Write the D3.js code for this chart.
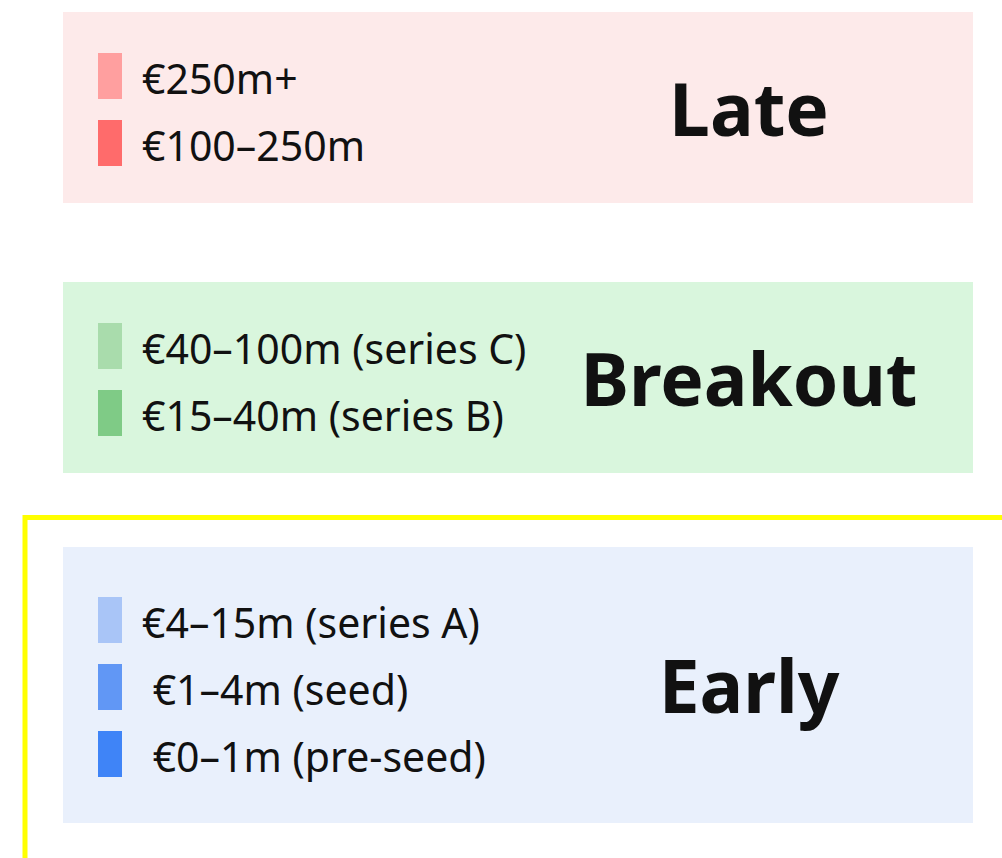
<!DOCTYPE html>
<html>
<head>
<meta charset="utf-8">
<script src="https://cdn.jsdelivr.net/npm/d3@7"></script>
<style>
  html, body { margin: 0; padding: 0; background: #fff; }
  svg { display: block; }
  text { font-family: "Noto Sans", "DejaVu Sans", sans-serif; fill: #111; white-space: pre; }
</style>
</head>
<body>
<svg width="1002" height="858"></svg>
<script>
// stages, top to bottom
const stages = ["Late", "Breakout", "Early"];
// funding bands inside each stage
const lateBands = ["€250m+", "€100–250m"];
const breakoutBands = ["€40–100m (series C)", "€15–40m (series B)"];
const earlyBands = ["€4–15m (series A)", " €1–4m (seed)", " €0–1m (pre-seed)"];
const bandsByStage = [lateBands, breakoutBands, earlyBands];

// colours
const stageFill = d3.scaleOrdinal(stages, ["#fdeaea", "#d9f6dd", "#e9f0fc"]);
const swatchFill = [
  ["#ff9f9f", "#ff6b6b"],
  ["#a9dcac", "#7fcb86"],
  ["#a9c5f7", "#6197f5", "#3f84f7"]
];

///////////// set up canvas
const svg = d3.select("svg"),
  width = +svg.attr("width"),
  height = +svg.attr("height");

// box layout (top, height) per stage
const boxTop = [12, 282, 547];
const boxHeight = [191, 191, 276];
const boxX = 63, boxW = 910;
const rowPitch = 67, swatchH = 46;

// highlight frame around the early stage
svg.append("rect")
  .attr("x", 25)
  .attr("y", 517.5)
  .attr("width", width)
  .attr("height", height)
  .attr("fill", "none")
  .attr("stroke", "#ffff00")
  .attr("stroke-width", 5);

const group = svg.selectAll("g.stage")
  .data(stages)
  .enter()
  .append("g")
  .attr("class", "stage")
  .attr("transform", (d, i) => `translate(0,${boxTop[i]})`);

group.append("rect")
  .attr("x", boxX)
  .attr("y", 0)
  .attr("width", boxW)
  .attr("height", (d, i) => boxHeight[i])
  .attr("fill", d => stageFill(d));

// big stage name
group.append("text")
  .attr("x", 749)
  .attr("y", (d, i) => boxHeight[i] / 2 + 28)
  .attr("text-anchor", "middle")
  .attr("font-size", 73)
  .attr("font-weight", 700)
  .text(d => d);

// rows of swatch + label
group.each(function (stage, si) {
  const bands = bandsByStage[si];
  const h = boxHeight[si];
  // row scale, swatch block centred in the box
  const top = h / 2 + 2 - (bands.length * rowPitch - (rowPitch - swatchH)) / 2;
  const y = d3.scaleLinear()
    .domain([0, bands.length])
    .range([top, top + bands.length * rowPitch]);

  const row = d3.select(this).selectAll("g.row")
    .data(bands)
    .enter()
    .append("g")
    .attr("class", "row")
    .attr("transform", (d, i) => `translate(0,${y(i)})`);

  row.append("rect")
    .attr("x", 98)
    .attr("y", 0)
    .attr("width", 24)
    .attr("height", swatchH)
    .attr("fill", (d, i) => swatchFill[si][i]);

  row.append("text")
    .attr("x", 142)
    .attr("y", 41)
    .attr("font-size", 41)
    .text(d => d);
});
</script>
</body>
</html>
